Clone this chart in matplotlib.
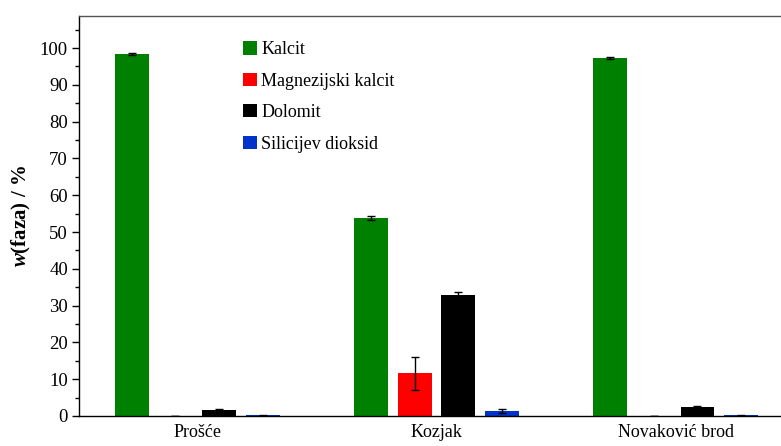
import matplotlib
matplotlib.use("Agg")
import matplotlib.pyplot as plt
import numpy as np
from matplotlib.ticker import MultipleLocator

plt.rcParams['font.family'] = ['Liberation Serif', 'DejaVu Serif']
plt.rcParams['mathtext.fontset'] = 'custom'
plt.rcParams['mathtext.it'] = 'Liberation Serif:italic:bold'
plt.rcParams['mathtext.rm'] = 'Liberation Serif:bold'

sites = ["Prošće", "Kozjak", "Novaković brod"]
phases = ["Kalcit", "Magnezijski kalcit", "Dolomit", "Silicijev dioksid"]
colors = ["#008000", "#ff0000", "#000000", "#0033cc"]

kalcit = [98.3, 53.8, 97.2]
mg_kalcit = [0.1, 11.6, 0.1]
dolomit = [1.5, 32.8, 2.5]
sio2 = [0.2, 1.3, 0.2]

kalcit_err = [0.3, 0.5, 0.3]
mg_kalcit_err = [0.0, 4.4, 0.0]
dolomit_err = [0.5, 1.0, 0.3]
sio2_err = [0.1, 0.5, 0.1]

values = [kalcit, mg_kalcit, dolomit, sio2]
errors = [kalcit_err, mg_kalcit_err, dolomit_err, sio2_err]

fig = plt.figure(figsize=(7.81, 4.46), dpi=100)
ax = fig.add_axes([79 / 781, 30 / 446, 1 - 79 / 781, 400 / 446])

x = np.arange(len(sites))
pitch = 0.182
width = 0.142
for i, (vals, errs, c, name) in enumerate(zip(values, errors, colors, phases)):
    pos = x + (i - 1.5) * pitch
    ax.bar(pos, vals, width, color=c, label=name, zorder=2)
    ax.errorbar(pos, vals, yerr=errs, fmt="none", ecolor="black",
                elinewidth=1.0, capsize=3, capthick=1.0, zorder=3)

ax.set_xlim(-0.494, 2.44)
ax.set_ylim(0, 108.7)
ax.yaxis.set_major_locator(MultipleLocator(10))
ax.yaxis.set_minor_locator(MultipleLocator(5))
ax.tick_params(axis="y", which="major", direction="out", length=5, width=1,
               labelsize=13.5, pad=3)
ax.tick_params(axis="y", which="minor", direction="out", length=3, width=1)
ax.set_xticks(x)
ax.set_xticklabels(sites, fontsize=13)
ax.tick_params(axis="x", length=0, pad=6)

ax.spines["right"].set_visible(False)
for s in ["left", "bottom", "top"]:
    ax.spines[s].set_linewidth(1.0)
ax.spines["top"].set_color("#555555")

ax.set_ylabel(r"$w$(faza) / %", fontsize=15, fontweight="bold", labelpad=5)

leg = ax.legend(loc="upper left", bbox_to_anchor=(157 / 702, 0.955),
                frameon=False, fontsize=13, handlelength=0.75,
                handleheight=0.75, handletextpad=0.25, labelspacing=0.8,
                borderaxespad=0)

fig.savefig("out.png", dpi=100)
